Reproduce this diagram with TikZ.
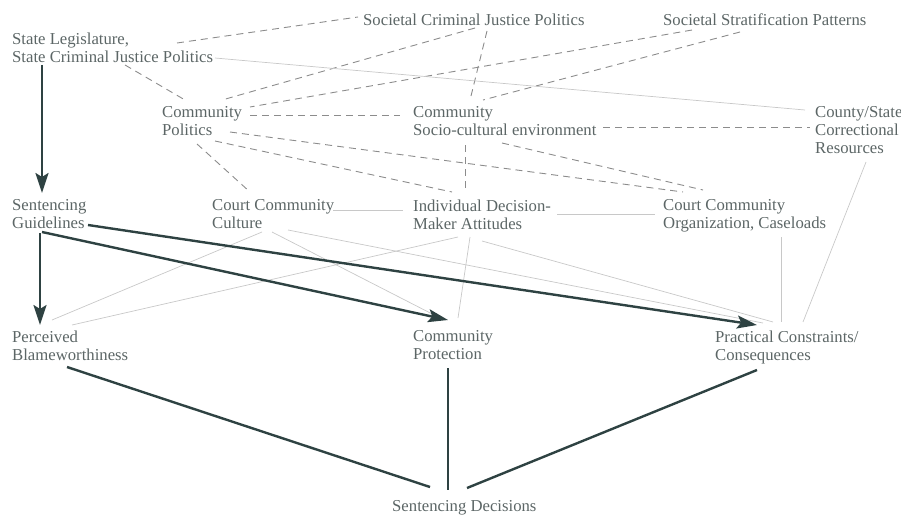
\documentclass[tikz,border=0pt]{standalone}
\usepackage{fontspec}
\setmainfont{Liberation Serif}
\usetikzlibrary{arrows.meta}

\definecolor{txtgray}{RGB}{92,102,102}
\definecolor{darkline}{RGB}{46,66,66}
\definecolor{thinline}{RGB}{200,200,200}
\definecolor{dashline}{RGB}{140,140,140}

\tikzset{
  lbl/.style={anchor=north west, inner sep=0pt, align=left, text=txtgray,
    font=\fontsize{16.7}{18}\selectfont},
  strong/.style={draw=darkline, line width=2.4pt},
  strongarrow/.style={strong, -{Stealth[length=20pt,width=13pt,inset=4pt]}},
  weak/.style={draw=thinline, line width=0.7pt},
  dashlink/.style={draw=dashline, line width=0.9pt, dash pattern=on 7pt off 5pt}
}

\begin{document}
\begin{tikzpicture}[x=1pt,y=-1pt]
\useasboundingbox (0,0) rectangle (901,516);

\node[lbl] (leg)  at (12,32.6)   {State Legislature,\\State Criminal Justice Politics};
\node[lbl] (scjp) at (363,13.6)  {Societal Criminal Justice Politics};
\node[lbl] (ssp)  at (663,13.6)  {Societal Stratification Patterns};
\node[lbl] (cpol) at (162,106.6) {Community\\Politics};
\node[lbl] (csoc) at (413,106.6) {Community\\Socio-cultural environment};
\node[lbl] (ccr)  at (815,106.6) {County/State\\Correctional\\Resources};
\node[lbl] (sg)   at (12,199.6)  {Sentencing\\Guidelines};
\node[lbl] (ccc)  at (212,199.6) {Court Community\\Culture};
\node[lbl] (idm)  at (413,199.6) {Individual Decision-\\Maker Attitudes};
\node[lbl] (cco)  at (663,199.6) {Court Community\\Organization, Caseloads};
\node[lbl] (pb)   at (12,330.6)  {Perceived\\Blameworthiness};
\node[lbl] (cp)   at (413,330.6) {Community\\Protection};
\node[lbl] (pcc)  at (715,330.6) {Practical Constraints/\\Consequences};
\node[lbl] (sd)   at (392,500.6) {Sentencing Decisions};

% dashed links
\foreach \a/\ax/\ay/\b/\bx/\by in {leg/165/10.4/scjp/-5/3.4, leg/113/32.4/cpol/23/-6.6,
    scjp/112/14.4/cpol/60/-6.6, scjp/124/17.4/csoc/57/-6.6, ssp/29/16.4/cpol/88/0.4,
    ssp/77/18.4/csoc/70/-6.6, cpol/88/8.4/csoc/-13/8.4, csoc/190/20.4/ccr/-5/20.4,
    cpol/53/34.4/idm/39/-7.6, cpol/68/25.4/cco/20/-7.6, csoc/89/36.4/cco/40/-9.6,
    csoc/52/38.4/idm/52/-9.6, cpol/35/37.4/ccc/38/-7.6} {
  \draw[dashlink] ([shift={(\ax,\ay)}]\a.north west) -- ([shift={(\bx,\by)}]\b.north west);
}

% thin links
\foreach \a/\ax/\ay/\b/\bx/\by in {leg/203/25.4/ccr/-10/3.4, ccc/121/10.4/idm/-10/10.4,
    idm/144/14.4/cco/-8/14.4, cco/118/37.4/pcc/66/-8.6, ccr/51/55.4/pcc/88/-8.6,
    ccc/50/32.4/pb/40/-10.6, idm/45/37.4/pb/60/-5.6, ccc/60/32.4/cp/27/-12.6,
    ccc/76/30.4/pcc/48/-7.6, idm/57/37.4/cp/45/-12.6, idm/69/41.4/pcc/58/-8.6} {
  \draw[weak] ([shift={(\ax,\ay)}]\a.north west) -- ([shift={(\bx,\by)}]\b.north west);
}

\foreach \a/\ax/\ay/\b/\bx/\by in {leg/30/32.4/sg/30/-6.6, sg/28/33.4/pb/28/-5.6,
    sg/30/32.4/cp/35/-10.6, sg/76/25.4/pcc/42/-5.6} {
  \draw[strongarrow] ([shift={(\ax,\ay)}]\a.north west) -- ([shift={(\bx,\by)}]\b.north west);
}

\foreach \a/\ax/\ay/\bx/\by in {pb/55/36.4/38/-13.6, cp/35/37.4/56/-10.6, pcc/42/39.4/75/-12.6} {
  \draw[strong] ([shift={(\ax,\ay)}]\a.north west) -- ([shift={(\bx,\by)}]sd.north west);
}

\end{tikzpicture}
\end{document}
